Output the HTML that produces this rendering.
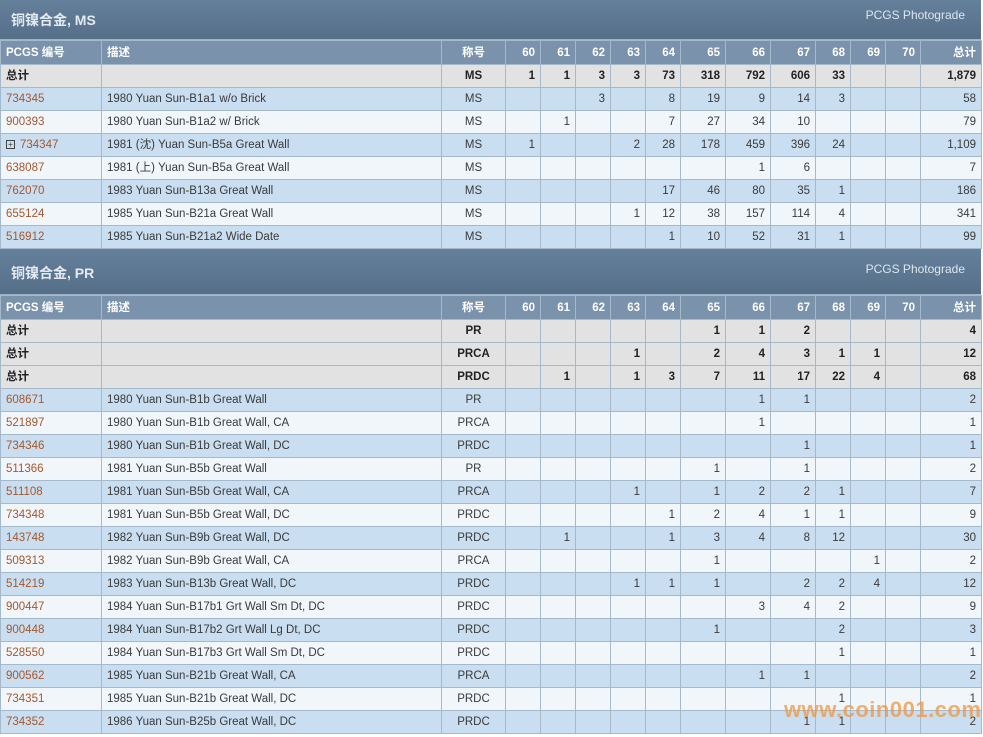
<!DOCTYPE html>
<html><head><meta charset="utf-8"><style>
body{margin:0;width:983px;height:737px;overflow:hidden;background:#fff;font-family:"Liberation Sans","Noto Sans CJK SC",sans-serif;font-size:11.5px;color:#3a3a3a;position:relative}
.hd{height:39px;background:linear-gradient(#65809b,#566f89);color:#fff;position:relative;border-bottom:1px solid #9fb3c6;width:981px}
.hd b{position:absolute;left:11px;top:10px;font-size:14px;color:#e3eaf2}
.hd span{position:absolute;right:16px;top:8px;font-size:12px;color:#dde6ef}
table{border-collapse:collapse;table-layout:fixed;width:981px}
td{border:1px solid #a6b9cb;height:22px;padding:0 5px;text-align:right;white-space:nowrap;overflow:hidden;line-height:22px}
td:nth-child(1),td:nth-child(2){text-align:left}
td:nth-child(3){text-align:center}
tr.h td{background:#7a92ab;color:#fff;font-weight:bold;height:23px}
tr.t td{background:#e2e2e2;font-weight:bold;color:#222}
tr.a td{background:#c9def0}
tr.b td{background:#f1f6fb}
a{color:#a5582c;text-decoration:none}
.wm{position:absolute;left:784px;top:697px;font-size:22px;font-weight:bold;color:rgba(240,150,60,0.75);letter-spacing:0.5px}
.pl{display:inline-block;width:7px;height:7px;border:1px solid #444;font-size:8px;line-height:7px;text-align:center;margin-right:5px;vertical-align:1px}
</style></head><body>
<div class="hd"><b>铜镍合金, MS</b><span>PCGS Photograde</span></div>
<table>
<colgroup><col style="width:101px"><col style="width:340px"><col style="width:64px"><col style="width:35px"><col style="width:35px"><col style="width:35px"><col style="width:35px"><col style="width:35px"><col style="width:45px"><col style="width:45px"><col style="width:45px"><col style="width:35px"><col style="width:35px"><col style="width:35px"><col style="width:61px"></colgroup>
<tr class="h"><td>PCGS 编号</td><td>描述</td><td>称号</td><td>60</td><td>61</td><td>62</td><td>63</td><td>64</td><td>65</td><td>66</td><td>67</td><td>68</td><td>69</td><td>70</td><td>总计</td></tr>
<tr class="t"><td>总计</td><td></td><td>MS</td><td>1</td><td>1</td><td>3</td><td>3</td><td>73</td><td>318</td><td>792</td><td>606</td><td>33</td><td></td><td></td><td>1,879</td></tr>
<tr class="a"><td><a>734345</a></td><td>1980 Yuan Sun-B1a1 w/o Brick</td><td>MS</td><td></td><td></td><td>3</td><td></td><td>8</td><td>19</td><td>9</td><td>14</td><td>3</td><td></td><td></td><td>58</td></tr>
<tr class="b"><td><a>900393</a></td><td>1980 Yuan Sun-B1a2 w/ Brick</td><td>MS</td><td></td><td>1</td><td></td><td></td><td>7</td><td>27</td><td>34</td><td>10</td><td></td><td></td><td></td><td>79</td></tr>
<tr class="a"><td><span class="pl">+</span><a>734347</a></td><td>1981 (沈) Yuan Sun-B5a Great Wall</td><td>MS</td><td>1</td><td></td><td></td><td>2</td><td>28</td><td>178</td><td>459</td><td>396</td><td>24</td><td></td><td></td><td>1,109</td></tr>
<tr class="b"><td><a>638087</a></td><td>1981 (上) Yuan Sun-B5a Great Wall</td><td>MS</td><td></td><td></td><td></td><td></td><td></td><td></td><td>1</td><td>6</td><td></td><td></td><td></td><td>7</td></tr>
<tr class="a"><td><a>762070</a></td><td>1983 Yuan Sun-B13a Great Wall</td><td>MS</td><td></td><td></td><td></td><td></td><td>17</td><td>46</td><td>80</td><td>35</td><td>1</td><td></td><td></td><td>186</td></tr>
<tr class="b"><td><a>655124</a></td><td>1985 Yuan Sun-B21a Great Wall</td><td>MS</td><td></td><td></td><td></td><td>1</td><td>12</td><td>38</td><td>157</td><td>114</td><td>4</td><td></td><td></td><td>341</td></tr>
<tr class="a"><td><a>516912</a></td><td>1985 Yuan Sun-B21a2 Wide Date</td><td>MS</td><td></td><td></td><td></td><td></td><td>1</td><td>10</td><td>52</td><td>31</td><td>1</td><td></td><td></td><td>99</td></tr>
</table>
<div class="hd" style="height:45px"><b style="top:14px">铜镍合金, PR</b><span style="top:13px">PCGS Photograde</span></div>
<table>
<colgroup><col style="width:101px"><col style="width:340px"><col style="width:64px"><col style="width:35px"><col style="width:35px"><col style="width:35px"><col style="width:35px"><col style="width:35px"><col style="width:45px"><col style="width:45px"><col style="width:45px"><col style="width:35px"><col style="width:35px"><col style="width:35px"><col style="width:61px"></colgroup>
<tr class="h"><td>PCGS 编号</td><td>描述</td><td>称号</td><td>60</td><td>61</td><td>62</td><td>63</td><td>64</td><td>65</td><td>66</td><td>67</td><td>68</td><td>69</td><td>70</td><td>总计</td></tr>
<tr class="t"><td>总计</td><td></td><td>PR</td><td></td><td></td><td></td><td></td><td></td><td>1</td><td>1</td><td>2</td><td></td><td></td><td></td><td>4</td></tr>
<tr class="t"><td>总计</td><td></td><td>PRCA</td><td></td><td></td><td></td><td>1</td><td></td><td>2</td><td>4</td><td>3</td><td>1</td><td>1</td><td></td><td>12</td></tr>
<tr class="t"><td>总计</td><td></td><td>PRDC</td><td></td><td>1</td><td></td><td>1</td><td>3</td><td>7</td><td>11</td><td>17</td><td>22</td><td>4</td><td></td><td>68</td></tr>
<tr class="a"><td><a>608671</a></td><td>1980 Yuan Sun-B1b Great Wall</td><td>PR</td><td></td><td></td><td></td><td></td><td></td><td></td><td>1</td><td>1</td><td></td><td></td><td></td><td>2</td></tr>
<tr class="b"><td><a>521897</a></td><td>1980 Yuan Sun-B1b Great Wall, CA</td><td>PRCA</td><td></td><td></td><td></td><td></td><td></td><td></td><td>1</td><td></td><td></td><td></td><td></td><td>1</td></tr>
<tr class="a"><td><a>734346</a></td><td>1980 Yuan Sun-B1b Great Wall, DC</td><td>PRDC</td><td></td><td></td><td></td><td></td><td></td><td></td><td></td><td>1</td><td></td><td></td><td></td><td>1</td></tr>
<tr class="b"><td><a>511366</a></td><td>1981 Yuan Sun-B5b Great Wall</td><td>PR</td><td></td><td></td><td></td><td></td><td></td><td>1</td><td></td><td>1</td><td></td><td></td><td></td><td>2</td></tr>
<tr class="a"><td><a>511108</a></td><td>1981 Yuan Sun-B5b Great Wall, CA</td><td>PRCA</td><td></td><td></td><td></td><td>1</td><td></td><td>1</td><td>2</td><td>2</td><td>1</td><td></td><td></td><td>7</td></tr>
<tr class="b"><td><a>734348</a></td><td>1981 Yuan Sun-B5b Great Wall, DC</td><td>PRDC</td><td></td><td></td><td></td><td></td><td>1</td><td>2</td><td>4</td><td>1</td><td>1</td><td></td><td></td><td>9</td></tr>
<tr class="a"><td><a>143748</a></td><td>1982 Yuan Sun-B9b Great Wall, DC</td><td>PRDC</td><td></td><td>1</td><td></td><td></td><td>1</td><td>3</td><td>4</td><td>8</td><td>12</td><td></td><td></td><td>30</td></tr>
<tr class="b"><td><a>509313</a></td><td>1982 Yuan Sun-B9b Great Wall, CA</td><td>PRCA</td><td></td><td></td><td></td><td></td><td></td><td>1</td><td></td><td></td><td></td><td>1</td><td></td><td>2</td></tr>
<tr class="a"><td><a>514219</a></td><td>1983 Yuan Sun-B13b Great Wall, DC</td><td>PRDC</td><td></td><td></td><td></td><td>1</td><td>1</td><td>1</td><td></td><td>2</td><td>2</td><td>4</td><td></td><td>12</td></tr>
<tr class="b"><td><a>900447</a></td><td>1984 Yuan Sun-B17b1 Grt Wall Sm Dt, DC</td><td>PRDC</td><td></td><td></td><td></td><td></td><td></td><td></td><td>3</td><td>4</td><td>2</td><td></td><td></td><td>9</td></tr>
<tr class="a"><td><a>900448</a></td><td>1984 Yuan Sun-B17b2 Grt Wall Lg Dt, DC</td><td>PRDC</td><td></td><td></td><td></td><td></td><td></td><td>1</td><td></td><td></td><td>2</td><td></td><td></td><td>3</td></tr>
<tr class="b"><td><a>528550</a></td><td>1984 Yuan Sun-B17b3 Grt Wall Sm Dt, DC</td><td>PRDC</td><td></td><td></td><td></td><td></td><td></td><td></td><td></td><td></td><td>1</td><td></td><td></td><td>1</td></tr>
<tr class="a"><td><a>900562</a></td><td>1985 Yuan Sun-B21b Great Wall, CA</td><td>PRCA</td><td></td><td></td><td></td><td></td><td></td><td></td><td>1</td><td>1</td><td></td><td></td><td></td><td>2</td></tr>
<tr class="b"><td><a>734351</a></td><td>1985 Yuan Sun-B21b Great Wall, DC</td><td>PRDC</td><td></td><td></td><td></td><td></td><td></td><td></td><td></td><td></td><td>1</td><td></td><td></td><td>1</td></tr>
<tr class="a"><td><a>734352</a></td><td>1986 Yuan Sun-B25b Great Wall, DC</td><td>PRDC</td><td></td><td></td><td></td><td></td><td></td><td></td><td></td><td>1</td><td>1</td><td></td><td></td><td>2</td></tr>
</table>
<div class="wm">www.coin001.com</div>
</body></html>
